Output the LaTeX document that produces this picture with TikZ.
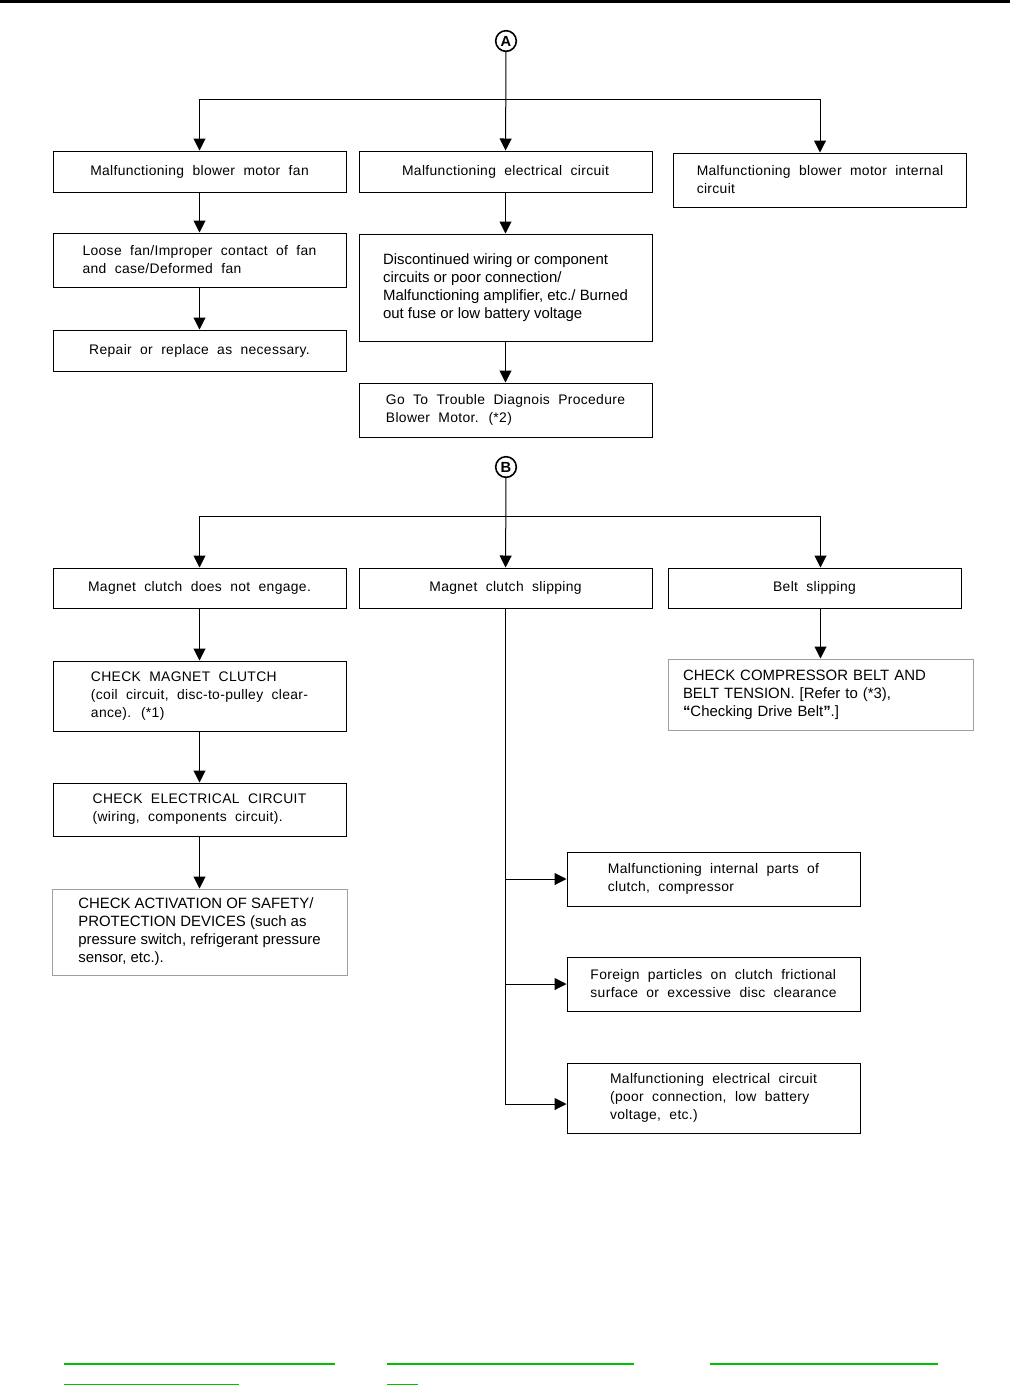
\documentclass[tikz,border=0pt]{standalone}
\usepackage{fontspec}
\setmainfont{Liberation Sans}
\newfontfamily\spacedfont[WordSpace=2.0,LetterSpace=2.5]{Liberation Sans}
\usetikzlibrary{arrows.meta,positioning,calc}
\definecolor{framegray}{HTML}{A0A0A0}
\definecolor{linkgreen}{HTML}{00C000}
\tikzset{
  box/.style={draw=black,line width=0.75pt,align=left,inner sep=0pt,
    minimum width=219.75pt},
  greybox/.style={box,draw=framegray},
  spaced/.style={font=\spacedfont\fontsize{10.4}{13.5}\selectfont},
  plain/.style={font=\fontsize{11.2}{13.5}\selectfont},
  marker/.style={draw,circle,line width=1.2pt,inner sep=0pt,minimum size=15.5pt,
    font=\bfseries\fontsize{11}{11}\selectfont},
  arrow/.style={-{Triangle[width=9pt,length=9pt]},line width=0.75pt},
  link/.style={draw=linkgreen,line width=1.3pt}
}
\begin{document}
\begin{tikzpicture}[x=0.75pt,y=-0.75pt]
\useasboundingbox (0,0) rectangle (1018,1386);
\fill (0,0) rectangle (1010,3);

\node[marker] (mA) at (506,41) {A};
\node[box,spaced,minimum height=30.75pt] (fan) at (199.5,171.5) {Malfunctioning blower motor fan};
\node[box,spaced,minimum height=30.75pt] (elec) at (505.5,171.5) {Malfunctioning electrical circuit};
\node[box,spaced,minimum height=40.5pt] (internal) at (820,180) {Malfunctioning blower motor internal\\circuit};
\node[box,spaced,minimum height=40.5pt] (loose) at (199.5,260) {Loose fan/Improper contact of fan\\and case/Deformed fan};
\node[box,spaced,minimum height=30.75pt] (repair) at (199.5,350.5) {Repair or replace as necessary.};
\node[box,plain,minimum height=80.25pt] (wiring) at (505.5,287.5) {Discontinued wiring or component\\circuits or poor connection/\\Malfunctioning amplifier, etc./ Burned\\out fuse or low battery voltage};
\node[box,spaced,minimum height=40.5pt] (proc) at (505.5,410) {Go To Trouble Diagnois Procedure\\Blower Motor. (*2)};
\coordinate (splitA) at (506,99);
\draw[arrow] (mA) -- (elec);
\draw[arrow] (splitA) -| (fan);
\draw[arrow] (splitA) -| (internal);
\draw[arrow] (fan) -- (loose);
\draw[arrow] (loose) -- (repair);
\draw[arrow] (elec) -- (wiring);
\draw[arrow] (wiring) -- (proc);

\node[marker] (mB) at (506,467) {B};
\node[box,spaced,minimum height=30pt] (noengage) at (199.5,588) {Magnet clutch does not engage.};
\node[box,spaced,minimum height=30pt] (slip) at (505.5,588) {Magnet clutch slipping};
\node[box,spaced,minimum height=30pt] (belt) at (814.5,588) {Belt slipping};
\node[box,spaced,minimum height=52.5pt] (clutchchk) at (199.5,696) {CHECK MAGNET CLUTCH\\(coil circuit, disc-to-pulley clear-\\ance). (*1)};
\node[box,spaced,minimum height=39.75pt] (elecchk) at (199.5,809.5) {CHECK ELECTRICAL CIRCUIT\\(wiring, components circuit).};
\node[greybox,plain,minimum width=221.25pt,minimum height=64.5pt] (safety) at (199.5,932) {CHECK ACTIVATION OF SAFETY/\\PROTECTION DEVICES (such as\\pressure switch, refrigerant pressure\\sensor, etc.).};
\node[greybox,plain,text width=206.25pt,inner xsep=11.25pt,minimum height=53.25pt] (beltchk) at (820.5,694.5) {CHECK COMPRESSOR BELT AND\\BELT TENSION. [Refer to (*3),\\\textbf{“}Checking Drive Belt\textbf{”}.]};
\node[box,spaced,minimum height=40.5pt] (parts) at (713.5,879) {Malfunctioning internal parts of\\clutch, compressor};
\node[box,spaced,minimum height=40.5pt] (particles) at (713.5,984) {Foreign particles on clutch frictional\\surface or excessive disc clearance};
\node[box,spaced,minimum height=52.5pt] (elecpoor) at (713.5,1098) {Malfunctioning electrical circuit\\(poor connection, low battery\\voltage, etc.)};
\coordinate (splitB) at (506,516);
\draw[arrow] (mB) -- (slip);
\draw[arrow] (splitB) -| (noengage);
\draw[arrow] (splitB) -| (beltchk.north |- belt.north);
\draw[arrow] (belt.south -| beltchk.north) -- (beltchk.north);
\draw[arrow] (noengage) -- (clutchchk);
\draw[arrow] (clutchchk) -- (elecchk);
\draw[arrow] (elecchk) -- (safety);
\draw[arrow] (slip.south) |- (parts);
\draw[arrow] (slip.south) |- (particles);
\draw[arrow] (slip.south) |- ($(elecpoor.west)+(0,6)$);

\draw[link] (64,1364) -- (335,1364) (387,1364) -- (634,1364) (710,1364) -- (938,1364);
\draw[link] (64,1384.5) -- (239,1384.5) (387,1384.5) -- (418,1384.5);
\end{tikzpicture}
\end{document}
